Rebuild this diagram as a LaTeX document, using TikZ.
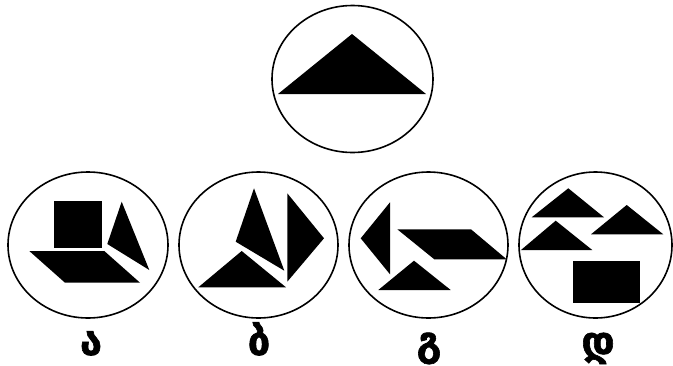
\documentclass[tikz,border=0pt]{standalone}
\usepackage{fontspec}
\newfontfamily\geo[FakeBold=1.5]{DejaVu Sans Bold}
\tikzset{
  ring/.style={draw=black, line width=1.6pt},
  piece/.style={fill=black, draw=none},
  lbl/.style={font=\geo\fontsize{40}{42}\selectfont, inner sep=0pt, anchor=base}
}
\begin{document}
\begin{tikzpicture}[x=1pt,y=-1pt]
\useasboundingbox (0,0) rectangle (673,365);
% top circle
\draw[ring] (352.5,79) ellipse [x radius=80.5, y radius=73.5];
\fill[piece] (352,34) -- (426,94) -- (278,94) -- cycle;
% circle a
\draw[ring] (88,245) ellipse [x radius=80, y radius=73];
\fill[piece] (54,201) rectangle (102,248);
\fill[piece] (121.7,201.7) -- (149.3,270) -- (107.3,244) -- cycle;
\fill[piece] (29.3,251) -- (104.3,251) -- (140,282.7) -- (65,282.7) -- cycle;
% circle b
\draw[ring] (258.5,245) ellipse [x radius=79.5, y radius=73];
\fill[piece] (254,188.3) -- (284.3,270.7) -- (235.7,241.7) -- cycle;
\fill[piece] (287.3,193.3) -- (324,238.3) -- (287.3,281.7) -- cycle;
\fill[piece] (241.7,251) -- (286,287.3) -- (198.3,287.3) -- cycle;
% circle g
\draw[ring] (428.5,245) ellipse [x radius=79.5, y radius=73];
\fill[piece] (390,202.3) -- (390,274.3) -- (360.7,238.3) -- cycle;
\fill[piece] (397.3,229.3) -- (471,229.3) -- (506.7,259.3) -- (434.3,259.3) -- cycle;
\fill[piece] (414,260.7) -- (450.7,290) -- (378.3,290) -- cycle;
% circle d
\draw[ring] (595.5,245) ellipse [x radius=76.5, y radius=73];
\fill[piece] (568.3,188.3) -- (604,217.3) -- (531.7,217.3) -- cycle;
\fill[piece] (626.7,205) -- (663.3,234.3) -- (591,234.3) -- cycle;
\fill[piece] (555.7,220.7) -- (592.3,250) -- (521,250) -- cycle;
\fill[piece] (572.7,260.7) rectangle (640,303.3);
% labels
\node[lbl] (la) at (91,355) {ა};
\node[lbl] (lb) at (259,355) {ბ};
\node[lbl] (lg) at (429,355) {გ};
\node[lbl] (ld) at (598,355) {დ};
\end{tikzpicture}
\end{document}
